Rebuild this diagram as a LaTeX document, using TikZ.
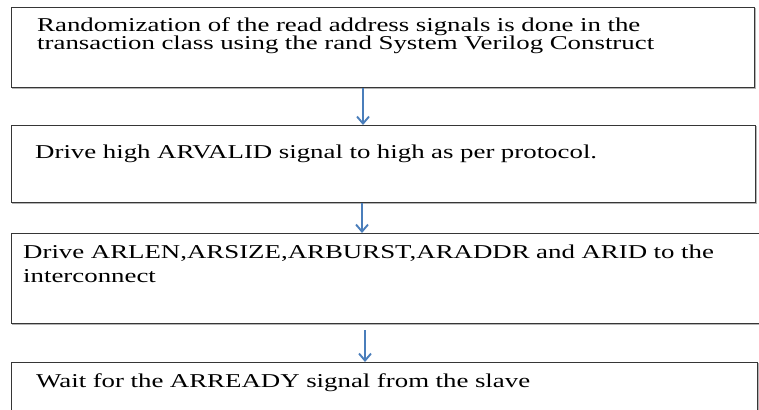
\documentclass[tikz,border=0pt]{standalone}
\usepackage{fontspec}
\setmainfont[FakeStretch=1.37]{Liberation Serif}
\usetikzlibrary{arrows.meta}
\definecolor{edgegray}{HTML}{363636}
\definecolor{shadegray}{HTML}{B4B4B4}
\definecolor{flowblue}{HTML}{4A7EBB}
\tikzset{
  stepbox/.style={draw=edgegray, line width=1.2pt, fill=white, rectangle, inner sep=0pt,
    anchor=north west},
  boxshade/.style={draw=shadegray, line width=1.4pt},
  steptext/.style={anchor=base west, inner sep=0pt, align=left, text width=730pt,
    text=black, font=\fontsize{19.6}{18}\selectfont},
  flow/.style={draw=flowblue, line width=2.2pt, -{Straight Barb[length=7pt,width=12pt,line width=1.9pt]}}
}
\begin{document}
\begin{tikzpicture}[x=1pt, y=-1pt]
  \clip (0,0) rectangle (759,409);
  \fill[white] (0,0) rectangle (759,409);

  % soft shadows below and right of each step box
  \draw[boxshade] (12.5,8.5) rectangle (755.5,88.5);
  \draw[boxshade] (12.5,126.5) rectangle (756.5,203.5);
  \draw[boxshade] (12.5,234.5) rectangle (775,324.5);
  \draw[boxshade] (12.5,363.5) rectangle (758.5,440);

  % step boxes
  \node[stepbox, minimum width=743pt, minimum height=80pt] (b1) at (11,7) {};
  \node[stepbox, minimum width=744pt, minimum height=77pt] (b2) at (11,125) {};
  \node[stepbox, minimum width=760pt, minimum height=90pt] (b3) at (11,233) {};
  \node[stepbox, minimum width=746pt, minimum height=80pt] (b4) at (11,362) {};

  % step texts
  \node[steptext] (t1) at (37,31.5) {Randomization of the read address signals is done in the\\transaction class using the rand System Verilog Construct};
  \node[steptext] (t2) at (35,158) {Drive high ARVALID signal to high as per protocol.};
  \node[steptext, font=\fontsize{19.6}{24}\selectfont] (t3) at (23,258) {Drive ARLEN,ARSIZE,ARBURST,ARADDR and ARID to the\\interconnect};
  \node[steptext] (t4) at (36,387) {Wait for the ARREADY signal from the slave};

  % connectors
  \coordinate (a3start) at (365,330);
  \draw[flow] (363,0 |- b1.south) -- (363,0 |- b2.north);
  \draw[flow] (362,0 |- b2.south) -- (362,0 |- b3.north);
  \draw[flow] (a3start) -- (a3start |- b4.north);
\end{tikzpicture}
\end{document}
